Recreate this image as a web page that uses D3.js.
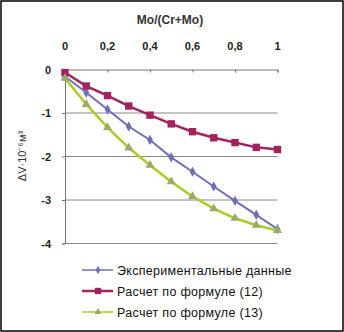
<!DOCTYPE html>
<html>
<head>
<meta charset="utf-8">
<script src="https://cdn.jsdelivr.net/npm/d3@7"></script>
<style>
  body { margin:0; background:#fff; }
  text { font-family: Arial, "Liberation Sans", sans-serif; }
</style>
</head>
<body>
<div id="wrapper"></div>
<script>
// data
const xValues = [0, 0.1, 0.2, 0.3, 0.4, 0.5, 0.6, 0.7, 0.8, 0.9, 1];
const experimental = [-0.16, -0.53, -0.92, -1.31, -1.62, -2.02, -2.35, -2.69, -3.02, -3.34, -3.67];
const formula12 = [-0.07, -0.38, -0.6, -0.84, -1.05, -1.25, -1.43, -1.57, -1.68, -1.79, -1.84];
const formula13 = [-0.2, -0.8, -1.33, -1.8, -2.2, -2.58, -2.92, -3.2, -3.42, -3.58, -3.7];
const seriesNames = ["Экспериментальные данные", "Расчет по формуле (12)", "Расчет по формуле (13)"];
const xTicks = [0, 0.2, 0.4, 0.6, 0.8, 1];
const yTicks = [0, -1, -2, -3, -4];

const dimensions = { width: 344, height: 332 };

const xScale = d3.scaleLinear().domain([0, 1]).range([65, 277.5]);
const yScale = d3.scaleLinear().domain([0, -4]).range([69.5, 243.5]);

const svg = d3.select("#wrapper").append("svg")
  .attr("width", dimensions.width)
  .attr("height", dimensions.height);

svg.append("rect")
  .attr("x", 1).attr("y", 1)
  .attr("width", dimensions.width - 2).attr("height", dimensions.height - 2)
  .attr("fill", "#fff").attr("stroke", "#000").attr("stroke-width", 1.5);

// grid lines
svg.selectAll(".grid")
  .data(yTicks.filter(d => d !== 0))
  .join("line")
  .attr("x1", xScale(0)).attr("x2", xScale(1))
  .attr("y1", d => yScale(d)).attr("y2", d => yScale(d))
  .attr("stroke", "#888").attr("stroke-width", 1);

// x axis on top, at y=0
const xAxis = d3.axisBottom(xScale).tickValues(xTicks).tickSize(3).tickFormat("");
svg.append("g")
  .attr("transform", `translate(0,${yScale(0)})`)
  .call(xAxis)
  .call(g => g.selectAll("path,line").attr("stroke", "#777"));

svg.selectAll(".xlab")
  .data(xTicks)
  .join("text")
  .attr("x", d => xScale(d))
  .attr("y", 50)
  .attr("text-anchor", "middle")
  .attr("font-size", 11)
  .attr("font-weight", "bold")
  .attr("fill", "#222")
  .text(d => d3.format(".1~f")(d).replace(".", ","));

// y axis
const yAxis = d3.axisLeft(yScale).tickValues(yTicks).tickSize(3).tickFormat("");
svg.append("g")
  .attr("transform", `translate(${xScale(0)},0)`)
  .call(yAxis)
  .call(g => g.selectAll("path,line").attr("stroke", "#777"));

svg.selectAll(".ylab")
  .data(yTicks)
  .join("text")
  .attr("x", 51)
  .attr("y", d => yScale(d) + 4)
  .attr("text-anchor", "end")
  .attr("font-size", 11)
  .attr("font-weight", "bold")
  .attr("fill", "#222")
  .text(d => d);

svg.append("text")
  .attr("x", 170).attr("y", 24)
  .attr("text-anchor", "middle")
  .attr("font-size", 12)
  .attr("font-weight", "bold")
  .attr("fill", "#333")
  .text("Mo/(Cr+Mo)");

svg.append("text")
  .attr("transform", "translate(26,156) rotate(-90)")
  .attr("text-anchor", "middle")
  .attr("font-size", 11)
  .attr("fill", "#333")
  .text("ΔV·10⁻⁶м³");

// series
const series = [
  { name: seriesNames[0], values: experimental, color: "#6f6fb8", marker: d3.symbolDiamond, size: 30, width: 2 },
  { name: seriesNames[1], values: formula12, color: "#a3235e", marker: d3.symbolSquare, size: 55, width: 2.5 },
  { name: seriesNames[2], values: formula13, color: "#a6cf1c", marker: d3.symbolTriangle, size: 35, width: 2.5 }
];

const line = d3.line().x(d => xScale(d[0])).y(d => yScale(d[1]));

series.forEach(s => {
  const pts = xValues.map((x, i) => [x, s.values[i]]);
  svg.append("path")
    .datum(pts)
    .attr("d", line)
    .attr("fill", "none")
    .attr("stroke", s.color)
    .attr("stroke-width", s.width);
  svg.selectAll(null)
    .data(pts)
    .join("path")
    .attr("transform", d => `translate(${xScale(d[0])},${yScale(d[1])})`)
    .attr("d", d3.symbol(s.marker, s.size))
    .attr("fill", s.marker === d3.symbolTriangle ? "#9aa86a" : s.color);
});

// legend
const legend = svg.append("g");
series.forEach((s, i) => {
  const y = 270 + i * 21;
  legend.append("line")
    .attr("x1", 82).attr("x2", 113)
    .attr("y1", y).attr("y2", y)
    .attr("stroke", s.color).attr("stroke-width", i === 1 ? 2.5 : 1.5);
  legend.append("path")
    .attr("transform", `translate(98,${y})`)
    .attr("d", d3.symbol(s.marker, i === 1 ? 40 : 20))
    .attr("fill", s.marker === d3.symbolTriangle ? "#9aa86a" : s.color);
  legend.append("text")
    .attr("x", 117).attr("y", y + 4.5)
    .attr("font-size", 12.5)
    .attr("letter-spacing", 0.3)
    .attr("fill", "#111")
    .text(s.name);
});
</script>
</body>
</html>
